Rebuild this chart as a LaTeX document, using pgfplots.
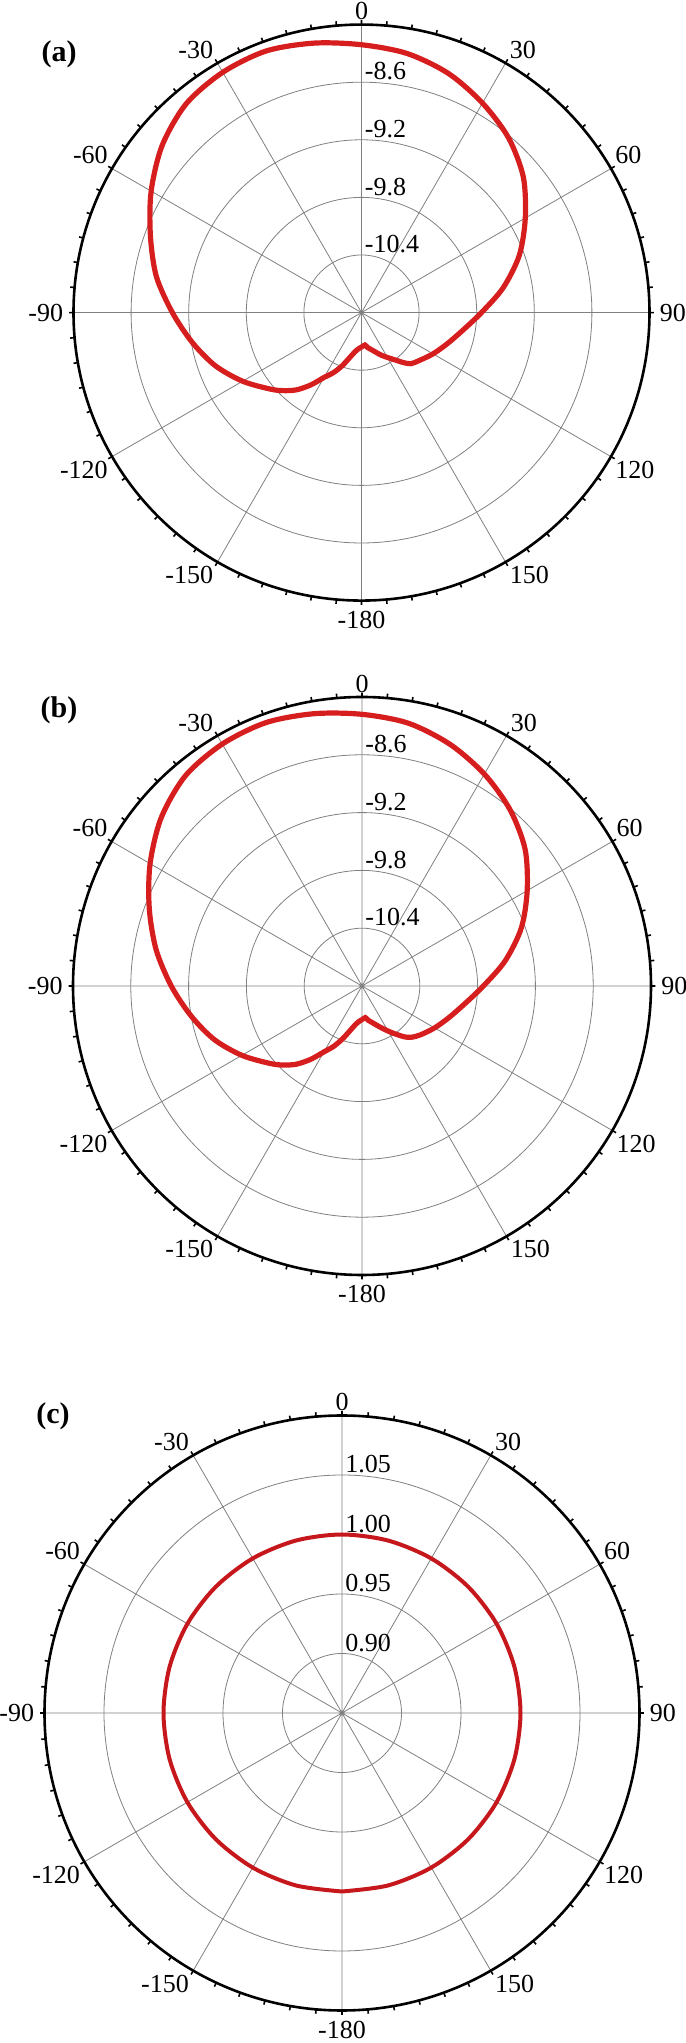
\documentclass[border=0pt]{standalone}
\usepackage{fontspec}
\setmainfont{Liberation Serif}
\usepackage{pgfplots}
\pgfplotsset{compat=1.18}
\usepgfplotslibrary{polar}
\definecolor{curvered}{RGB}{214,30,30}
\definecolor{curvedark}{RGB}{198,24,28}

\pgfplotsset{
  patternax/.style={
    scale only axis,
    xmin=0, xmax=360,
    xtick={0,30,...,330},
    xticklabels={},
    minor x tick num=5,
    x filter/.expression={90-x},
    xmajorgrids, ymajorgrids,
    grid style={line width=0.4pt, draw=black!50},
    x axis line style={line width=1.3pt},
    y axis line style={draw=none},
    ytick style={draw=none},
    yticklabels={},
    xtick style={line width=0.8pt, black},
    major tick length=2.2pt, minor tick length=2.2pt,
    tick align=inside,
    clip=false,
  },
}
\tikzset{
  rlab/.style={anchor=south west, inner sep=0pt, xshift=1.5pt, yshift=0.8pt,
    font=\fontsize{13}{15}\selectfont},
  alab/.style={inner sep=2pt, font=\fontsize{13}{15}\selectfont},
}
% angle labels round the outer circle, #1 = outer radius in axis units
\newcommand{\anglabels}[1]{%
  \node[alab, anchor=south] at (axis cs:90,#1) {0};
  \node[alab, anchor=south west] at (axis cs:60,#1) {30};
  \node[alab, anchor=south west] at (axis cs:30,#1) {60};
  \node[alab, anchor=west, xshift=3pt] at (axis cs:0,#1) {90};
  \node[alab, anchor=north west] at (axis cs:-30,#1) {120};
  \node[alab, anchor=north west] at (axis cs:-60,#1) {150};
  \node[alab, anchor=north, yshift=-3pt] at (axis cs:-90,#1) {-180};
  \node[alab, anchor=north east] at (axis cs:-120,#1) {-150};
  \node[alab, anchor=north east] at (axis cs:-150,#1) {-120};
  \node[alab, anchor=east, xshift=-3pt] at (axis cs:180,#1) {-90};
  \node[alab, anchor=south east] at (axis cs:150,#1) {-60};
  \node[alab, anchor=south east] at (axis cs:120,#1) {-30};
}

\begin{document}
\begin{tikzpicture}
\useasboundingbox (0,0) rectangle (342.5pt,1021.5pt);

% (a)
\begin{polaraxis}[patternax, at={(180.75pt,865.2pt)}, anchor=center,
    width=288pt, height=288pt, ymin=0, ymax=3,
    ytick={0.6,1.2,1.8,2.4}, y filter/.expression={y+11}]
  \addplot[curvered, line width=2.6pt, smooth, tension=0.5] coordinates {
    (-180,-10.64) (-175,-10.62) (-170,-10.58) (-165,-10.51) (-160,-10.41)
    (-155,-10.31) (-150,-10.22) (-145,-10.08) (-140,-9.95) (-135,-9.85)
    (-130,-9.76) (-120,-9.57) (-110,-9.38) (-100,-9.21)
    (-90,-9.03) (-80,-8.83) (-70,-8.66) (-60,-8.47) (-50,-8.29)
    (-40,-8.16) (-30,-8.11) (-20,-8.10) (-10,-8.15) (0,-8.21)
    (10,-8.26) (20,-8.35) (30,-8.48) (40,-8.62) (50,-8.80)
    (60,-9.03) (70,-9.25) (80,-9.50) (90,-9.75) (100,-9.93)
    (110,-10.05) (120,-10.14) (130,-10.22) (136,-10.26) (140,-10.32)
    (145,-10.40) (150,-10.46) (155,-10.51) (160,-10.56) (165,-10.60)
    (170,-10.63) (174,-10.66) (180,-10.64)
  };
  \node[rlab] at (axis cs:90,0.6) {-10.4};
  \node[rlab] at (axis cs:90,1.2) {-9.8};
  \node[rlab] at (axis cs:90,1.8) {-9.2};
  \node[rlab] at (axis cs:90,2.4) {-8.6};
  \anglabels{3}
\end{polaraxis}

% (b)
\begin{polaraxis}[patternax, at={(181pt,528.5pt)}, anchor=center,
    width=289pt, height=289pt, ymin=0, ymax=3,
    ytick={0.6,1.2,1.8,2.4}, y filter/.expression={y+11}]
  \addplot[curvered, line width=2.6pt, smooth, tension=0.5] coordinates {
    (-180,-10.65) (-175,-10.63) (-170,-10.59) (-165,-10.52) (-160,-10.42)
    (-155,-10.31) (-150,-10.21) (-145,-10.07) (-140,-9.94) (-135,-9.84)
    (-130,-9.75) (-120,-9.56) (-110,-9.37) (-100,-9.20)
    (-90,-9.02) (-80,-8.83) (-70,-8.65) (-60,-8.46) (-50,-8.28)
    (-40,-8.15) (-30,-8.10) (-20,-8.09) (-10,-8.13) (0,-8.18)
    (10,-8.23) (20,-8.33) (30,-8.46) (40,-8.61) (50,-8.79)
    (60,-9.02) (70,-9.24) (80,-9.49) (90,-9.74) (100,-9.92)
    (110,-10.04) (120,-10.13) (130,-10.21) (136,-10.26) (140,-10.31)
    (145,-10.39) (150,-10.46) (155,-10.52) (160,-10.57) (165,-10.61)
    (170,-10.64) (174,-10.67) (180,-10.65)
  };
  \node[rlab] at (axis cs:90,0.6) {-10.4};
  \node[rlab] at (axis cs:90,1.2) {-9.8};
  \node[rlab] at (axis cs:90,1.8) {-9.2};
  \node[rlab] at (axis cs:90,2.4) {-8.6};
  \anglabels{3}
\end{polaraxis}

% (c)
\begin{polaraxis}[patternax, at={(171pt,165pt)}, anchor=center,
    width=297.5pt, height=297.5pt, ymin=0, ymax=0.25,
    ytick={0.05,0.10,0.15,0.20}, y filter/.expression={y-0.85}]
  \addplot[curvedark, line width=2.0pt, smooth, tension=0.5] coordinates {
    (-180,1.00) (-165,1.00) (-150,1.00) (-135,1.00) (-120,1.00)
    (-105,1.00) (-90,1.00) (-75,1.00) (-60,1.00) (-45,1.00)
    (-30,1.00) (-15,1.00) (0,1.00) (15,1.00) (30,1.00)
    (45,1.00) (60,1.00) (75,1.00) (90,1.00) (105,1.00)
    (120,1.00) (135,1.00) (150,1.00) (165,1.00) (180,1.00)
  };
  \node[rlab] at (axis cs:90,0.05) {0.90};
  \node[rlab] at (axis cs:90,0.10) {0.95};
  \node[rlab] at (axis cs:90,0.15) {1.00};
  \node[rlab] at (axis cs:90,0.20) {1.05};
  \anglabels{0.25}
\end{polaraxis}

\node[font=\bfseries\fontsize{15}{17}\selectfont] at (29.5pt,994.5pt) {(a)};
\node[font=\bfseries\fontsize{15}{17}\selectfont] at (29.5pt,666.5pt) {(b)};
\node[font=\bfseries\fontsize{15}{17}\selectfont] at (26.5pt,313.5pt) {(c)};
\end{tikzpicture}
\end{document}
